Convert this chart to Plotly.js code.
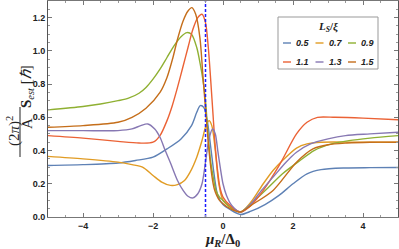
<!DOCTYPE html>
<html><head><meta charset="utf-8">
<script src="https://cdn.plot.ly/plotly-3.0.1.min.js"></script>
<style>html,body{margin:0;padding:0;background:#fff}#chart{width:399px;height:249px}</style>
</head><body><div id="chart"></div>
<script>
// ---- data ----
const seriesNames = ["0.5", "0.7", "0.9", "1.1", "1.3", "1.5"];
const seriesColors = ["#5e81b5", "#e19c24", "#8fb032", "#eb6235", "#8778b3", "#c56e1a"];

const x05 = [-5, -4, -3, -2.5, -2, -1.6, -1.2, -0.9, -0.75, -0.65, -0.55, -0.45, -0.35, -0.25, -0.15, 0, 0.2, 0.5, 0.8, 1.2, 1.6, 2, 2.4, 2.8, 3.5, 4.2, 5];
const y05 = [0.31, 0.315, 0.325, 0.34, 0.36, 0.41, 0.47, 0.55, 0.63, 0.67, 0.66, 0.58, 0.42, 0.25, 0.13, 0.075, 0.045, 0.015, 0.035, 0.075, 0.13, 0.2, 0.26, 0.285, 0.295, 0.297, 0.298];

const x07 = [-5, -4, -3, -2.6, -2.3, -2, -1.75, -1.5, -1.3, -1.1, -0.94, -0.75, -0.6, -0.5, -0.4, -0.32, -0.22, -0.12, 0, 0.2, 0.5, 0.8, 1.15, 1.43, 1.7, 2.1, 2.4, 2.8, 4, 5];
const y07 = [0.365, 0.35, 0.33, 0.315, 0.3, 0.25, 0.21, 0.19, 0.195, 0.22, 0.27, 0.36, 0.46, 0.54, 0.58, 0.55, 0.4, 0.2, 0.1, 0.06, 0.03, 0.09, 0.2, 0.28, 0.34, 0.415, 0.44, 0.45, 0.45, 0.45];

const x09 = [-5, -4, -3.5, -3, -2.7, -2.4, -2.2, -2, -1.8, -1.6, -1.4, -1.2, -1.03, -0.9, -0.75, -0.65, -0.57, -0.5, -0.43, -0.35, -0.28, -0.2, -0.1, 0, 0.2, 0.5, 0.8, 1.26, 1.7, 2.2, 2.6, 3.1, 3.6, 4.2, 5];
const y09 = [0.645, 0.665, 0.68, 0.7, 0.715, 0.745, 0.78, 0.83, 0.89, 0.96, 1.03, 1.085, 1.11, 1.1, 1.02, 0.92, 0.82, 0.7, 0.5, 0.33, 0.24, 0.16, 0.12, 0.1, 0.06, 0.03, 0.08, 0.17, 0.26, 0.34, 0.4, 0.44, 0.46, 0.475, 0.49];

const x11 = [-5, -4, -3, -2.4, -2, -1.8, -1.6, -1.45, -1.3, -1.15, -1, -0.86, -0.72, -0.6, -0.5, -0.42, -0.35, -0.28, -0.22, -0.15, -0.08, 0, 0.2, 0.5, 0.8, 1.15, 1.63, 2.1, 2.4, 2.7, 3.2, 4, 5];
const y11 = [0.49, 0.475, 0.455, 0.445, 0.45, 0.49, 0.58, 0.67, 0.78, 0.9, 1.02, 1.13, 1.2, 1.22, 1.17, 1.02, 0.82, 0.6, 0.42, 0.27, 0.17, 0.12, 0.07, 0.03, 0.07, 0.16, 0.32, 0.5, 0.57, 0.6, 0.6, 0.595, 0.585];

const x13 = [-5, -4, -3, -2.6, -2.35, -2.15, -1.95, -1.8, -1.65, -1.5, -1.3, -1.14, -1, -0.86, -0.72, -0.6, -0.5, -0.4, -0.3, -0.22, -0.15, -0.08, 0, 0.1, 0.25, 0.5, 0.8, 1.1, 1.43, 1.8, 2.1, 2.5, 3, 3.5, 4.2, 5];
const y13 = [0.52, 0.52, 0.52, 0.53, 0.55, 0.56, 0.53, 0.48, 0.4, 0.325, 0.22, 0.16, 0.125, 0.115, 0.14, 0.2, 0.33, 0.47, 0.53, 0.5, 0.4, 0.3, 0.2, 0.13, 0.07, 0.03, 0.08, 0.16, 0.24, 0.33, 0.39, 0.44, 0.47, 0.49, 0.5, 0.51];

const x15 = [-5, -4, -3, -2.6, -2.2, -1.8, -1.6, -1.43, -1.3, -1.14, -1, -0.89, -0.78, -0.66, -0.57, -0.48, -0.4, -0.32, -0.25, -0.18, -0.1, 0, 0.2, 0.5, 0.8, 1.43, 2.1, 2.57, 3, 3.54, 4.2, 5];
const y15 = [0.54, 0.55, 0.57, 0.6, 0.655, 0.75, 0.84, 0.96, 1.07, 1.18, 1.24, 1.26, 1.22, 1.08, 0.84, 0.6, 0.4, 0.25, 0.17, 0.13, 0.1, 0.08, 0.05, 0.03, 0.07, 0.16, 0.33, 0.41, 0.435, 0.445, 0.45, 0.45];

const xSeries = [x05, x07, x09, x11, x13, x15];
const ySeries = [y05, y07, y09, y11, y13, y15];

const markerLineX = [-0.5, -0.5];
const markerLineY = [0, 1.3];

const xTickVals = [-4, -2, 0, 2, 4];
const yTickVals = [0, 0.2, 0.4, 0.6, 0.8, 1.0, 1.2];

// ---- chart ----
const W = 399, H = 249, mL = 48, mR = 1, mT = 1, mB = 32;
const pw = W - mL - mR, ph = H - mT - mB;
const px2x = p => (p - mL) / pw;
const py2y = p => (H - mB - p) / ph;

const traces = seriesNames.map((n, i) => ({
  x: xSeries[i], y: ySeries[i], type: 'scatter', mode: 'lines', name: n,
  line: {color: seriesColors[i], width: 1.4, shape: 'spline', smoothing: 0.8},
  showlegend: false, hoverinfo: 'skip'
}));
traces.push({x: markerLineX, y: markerLineY, type: 'scatter', mode: 'lines',
  line: {color: '#1a1aff', width: 1.5, dash: '3px,2px'}, showlegend: false, hoverinfo: 'skip'});

const tickFont = {family: 'Liberation Sans, Arial, sans-serif', size: 9, color: '#222', weight: 'bold'};
const serif = 'Liberation Serif, Times New Roman, serif';

const annotations = [
  {xref: 'paper', yref: 'paper', x: px2x(13), y: py2y(131), text: '(2<i>π</i>)<sup>2</sup>', showarrow: false,
   textangle: -90, xanchor: 'center', yanchor: 'middle', font: {family: serif, size: 15, color: '#222'}},
  {xref: 'paper', yref: 'paper', x: px2x(27), y: py2y(124), text: 'A', showarrow: false,
   textangle: -90, xanchor: 'center', yanchor: 'middle', font: {family: serif, size: 15, color: '#222'}},
  {xref: 'paper', yref: 'paper', x: px2x(27), y: py2y(87), text: '<b>S</b><sub><i>est</i></sub> [<i>ℏ</i>]', showarrow: false,
   textangle: -90, xanchor: 'center', yanchor: 'middle', font: {family: serif, size: 15, color: '#222'}},
  {xref: 'paper', yref: 'paper', x: px2x(222), y: py2y(240), text: '<b><i>μ</i><sub><i>R</i></sub>/Δ<sub>0</sub></b>', showarrow: false,
   xanchor: 'center', yanchor: 'middle', font: {family: serif, size: 15, color: '#222'}},
  {xref: 'paper', yref: 'paper', x: px2x(328), y: py2y(27), text: '<b><i>L<sub>S</sub></i>/<i>ξ</i></b>', showarrow: false,
   xanchor: 'center', yanchor: 'middle', font: {family: serif, size: 11, color: '#222'}}
];

const shapes = [
  {type: 'line', xref: 'paper', yref: 'paper', x0: px2x(20), x1: px2x(20), y0: py2y(157), y1: py2y(107),
   line: {color: '#222', width: 1}},
  {type: 'rect', xref: 'paper', yref: 'paper', x0: px2x(278), x1: px2x(378), y0: py2y(69), y1: py2y(17),
   fillcolor: '#fff', line: {color: '#999', width: 1}, layer: 'above'}
];

seriesNames.forEach((n, i) => {
  const col = i % 3, row = Math.floor(i / 3);
  const lx = 283 + col * 32.5, ly = 43 + row * 19;
  shapes.push({type: 'line', xref: 'paper', yref: 'paper', x0: px2x(lx), x1: px2x(lx + 8), y0: py2y(ly), y1: py2y(ly),
    line: {color: seriesColors[i], width: 1.4}, layer: 'above'});
  annotations.push({xref: 'paper', yref: 'paper', x: px2x(lx + 11), y: py2y(ly), text: '<b><i>' + n + '</i></b>',
    showarrow: false, xanchor: 'left', yanchor: 'middle', font: {family: 'Liberation Sans, Arial, sans-serif', size: 9, color: '#222'}});
});

const layout = {
  width: W, height: H, margin: {l: mL, r: mR, t: mT, b: mB},
  paper_bgcolor: '#fff', plot_bgcolor: '#fff', showlegend: false,
  xaxis: {range: [-5, 5], tickvals: xTickVals, ticktext: xTickVals.map(v => v < 0 ? '−' + Math.abs(v) : String(v)),
    ticks: 'inside', ticklen: 4, tickcolor: '#777', showline: true, linecolor: '#777', linewidth: 1, mirror: 'ticks',
    showgrid: false, zeroline: false, tickfont: tickFont,
    minor: {dtick: 0.5, ticklen: 2, ticks: 'inside', tickcolor: '#999', showgrid: false}},
  yaxis: {range: [0, 1.3], tickvals: yTickVals, ticktext: yTickVals.map(v => v.toFixed(1)),
    ticks: 'inside', ticklen: 4, tickcolor: '#777', showline: true, linecolor: '#555', linewidth: 1, mirror: 'ticks',
    showgrid: false, zeroline: false, tickfont: tickFont,
    minor: {dtick: 0.05, ticklen: 2, ticks: 'inside', tickcolor: '#999', showgrid: false}},
  annotations: annotations, shapes: shapes
};

Plotly.newPlot('chart', traces, layout, {staticPlot: true, displayModeBar: false});
</script></body></html>
